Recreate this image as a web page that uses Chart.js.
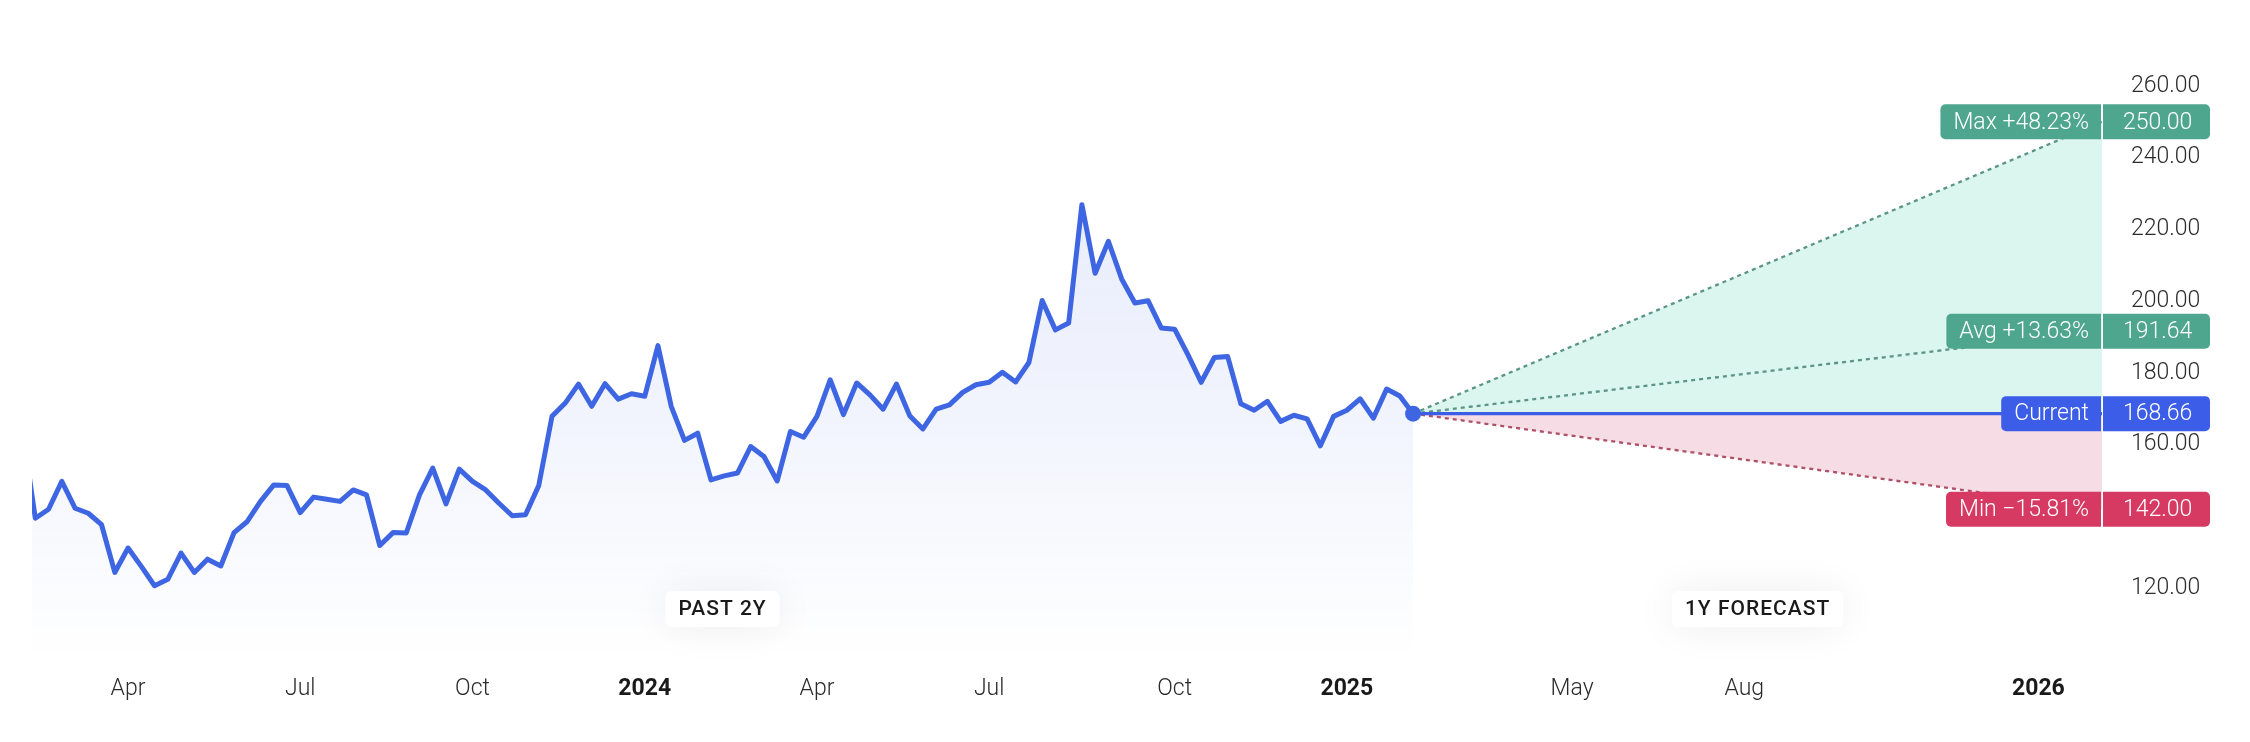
<!DOCTYPE html>
<html>
<head>
<meta charset="utf-8">
<script src="https://cdn.jsdelivr.net/npm/chart.js@4.4.1/dist/chart.umd.min.js"></script>
<style>
  html, body { margin: 0; padding: 0; background: #fff; }
  #wrap { width: 2250px; height: 742px; position: relative; }
</style>
</head>
<body>
<div id="wrap"><canvas id="priceChart"></canvas></div>
<script>
// weekly closes, past 2 years (first one is cut off by the left edge)
const priceValues = [
  165, 139.5, 142.0, 149.8, 142.3, 140.9, 137.7, 124.4, 131.2, 126.1,
  120.7, 122.5, 129.8, 124.4, 128.1, 126.2, 135.5, 138.6, 144.2, 148.8,
  148.6, 141.1, 145.4, 144.8, 144.2, 147.4, 146.0, 131.9, 135.5, 135.4,
  146.0, 153.5, 143.5, 153.2, 149.8, 147.4, 143.7, 140.2, 140.5, 148.6,
  167.9, 171.6, 176.9, 170.7, 177.0, 172.7, 174.2, 173.5, 187.6, 170.7,
  161.2, 163.2, 150.2, 151.3, 152.1, 159.5, 156.7, 149.9, 163.7, 162.1,
  167.9, 178.1, 168.4, 177.2, 173.9, 169.9, 176.9, 168.1, 164.4, 169.9,
  171.1, 174.6, 176.7, 177.4, 180.2, 177.5, 182.9, 200.2, 192.0, 193.9,
  226.9, 207.8, 216.7, 206.2, 199.5, 200.1, 192.5, 192.2, 185.1, 177.4,
  184.3, 184.6, 171.4, 169.6, 172.1, 166.5, 168.2, 167.2, 159.7, 167.9,
  169.6, 172.8, 167.4, 175.5, 173.6, 168.66
];

// forecast targets, one year out
const forecastLabels = ['Max +48.23%', 'Avg +13.63%', 'Current', 'Min \u221215.81%'];
const forecastValues = [250.00, 191.64, 168.66, 142.00];

// x axis in weeks (0 = first full week shown, 104 = today)
const xTickWeeks = [7, 20, 33, 46, 59, 72, 86, 99, 116, 129, 151.2];
const xTickLabels = ['Apr', 'Jul', 'Oct', '2024', 'Apr', 'Jul', 'Oct', '2025', 'May', 'Aug', '2026'];
const yTickValues = [120, 140, 160, 180, 200, 220, 240, 260];

const COLORS = {
  line: '#3f66e2',
  current: '#3b5de7',
  up: '#4fa68f',
  down: '#d63a63',
  upDash: '#5a9585',
  downDash: '#ad5069',
  upFill: '#dbf5ef',
  downFill: '#f6dde5',
  text: '#2b2b2b',
};

const todayWeek = priceValues.length - 2;
const endWeek = 156;
const current = forecastValues[2];

const pricePoints = priceValues.map((v, i) => ({ x: i - 1, y: v }));
const forecastLine = (target) => [{ x: todayWeek, y: current }, { x: endWeek, y: target }];
const isYear = (i) => /^\d{4}$/.test(xTickLabels[i]);

// ── Badges on the right + section tags ─────────────────────
const badgePlugin = {
  id: 'badges',
  afterDraw(chart) {
    const { ctx, chartArea, scales } = chart;
    const right = chartArea.right;
    const colors = [COLORS.up, COLORS.up, COLORS.current, COLORS.down];
    ctx.save();
    ctx.font = '300 23px Roboto';
    ctx.textBaseline = 'middle';
    forecastValues.forEach((v, i) => {
      const y = scales.y.getPixelForValue(v);
      const h = 35;
      const w = ctx.measureText(forecastLabels[i]).width + 26;
      ctx.fillStyle = colors[i];
      ctx.beginPath();
      ctx.roundRect(right - w, y - h / 2, w - 1, h, [5, 0, 0, 5]);
      ctx.fill();
      ctx.beginPath();
      ctx.roundRect(right + 1, y - h / 2, 107, h, [0, 5, 5, 0]);
      ctx.fill();
      ctx.fillStyle = '#fff';
      ctx.textAlign = 'right';
      ctx.fillText(forecastLabels[i], right - 13, y + 1);
      ctx.textAlign = 'left';
      ctx.fillText(v.toFixed(2), right + 21, y + 1);
    });

    // section tags
    const tags = [
      ['PAST 2Y', (scales.x.min + todayWeek) / 2],
      ['1Y FORECAST', (todayWeek + endWeek) / 2],
    ];
    ctx.font = '500 21px Roboto';
    ctx.letterSpacing = '1px';
    ctx.textAlign = 'center';
    tags.forEach(([txt, wk]) => {
      const cx = scales.x.getPixelForValue(wk);
      const cy = chartArea.bottom - 51;
      const w = ctx.measureText(txt).width + 26;
      ctx.save();
      ctx.shadowColor = 'rgba(0,0,0,0.07)';
      ctx.shadowBlur = 40;
      ctx.fillStyle = '#fff';
      ctx.beginPath();
      ctx.roundRect(cx - w / 2, cy - 18, w, 36, 6);
      ctx.fill();
      ctx.restore();
      ctx.fillStyle = '#1a1a1a';
      ctx.fillText(txt, cx, cy + 1);
    });
    ctx.restore();
  }
};

const ctx = document.getElementById('priceChart');

new Chart(ctx, {
  type: 'line',
  data: {
    datasets: [
      {
        label: 'Price',
        data: pricePoints,
        borderColor: COLORS.line,
        borderWidth: 5,
        borderJoinStyle: 'round',
        pointRadius: (c) => c.dataIndex === pricePoints.length - 1 ? 8 : 0,
        pointBackgroundColor: COLORS.line,
        pointBorderWidth: 0,
        tension: 0,
        fill: 'start',
        backgroundColor: (c) => {
          const { ctx, chartArea } = c.chart;
          if (!chartArea) return 'rgba(63,102,226,0.1)';
          const g = ctx.createLinearGradient(0, chartArea.top, 0, chartArea.bottom);
          g.addColorStop(0, 'rgba(63,102,226,0.15)');
          g.addColorStop(0.6, 'rgba(63,102,226,0.07)');
          g.addColorStop(1, 'rgba(63,102,226,0.0)');
          return g;
        },
      },
      {
        label: 'Current',
        data: forecastLine(current),
        borderColor: COLORS.current,
        borderWidth: 3.3,
        pointRadius: 0,
        fill: false,
      },
      {
        label: 'Avg',
        data: forecastLine(forecastValues[1]),
        borderColor: COLORS.upDash,
        borderWidth: 2.3,
        borderDash: [4, 4],
        pointRadius: 0,
        fill: false,
      },
      {
        label: 'Max',
        data: forecastLine(forecastValues[0]),
        borderColor: COLORS.upDash,
        borderWidth: 2.3,
        borderDash: [4, 4],
        pointRadius: 0,
        fill: { target: 1, above: COLORS.upFill, below: COLORS.upFill },
      },
      {
        label: 'Min',
        data: forecastLine(forecastValues[3]),
        borderColor: COLORS.downDash,
        borderWidth: 2.3,
        borderDash: [4, 4],
        pointRadius: 0,
        fill: { target: 1, above: COLORS.downFill, below: COLORS.downFill },
      },
    ]
  },
  options: {
    responsive: true,
    maintainAspectRatio: false,
    animation: false,
    devicePixelRatio: 1,
    layout: { padding: { left: 32, top: 50, right: 0, bottom: 0 } },
    plugins: {
      legend: { display: false },
      tooltip: { enabled: false },
    },
    scales: {
      x: {
        type: 'linear',
        min: -0.25,
        max: endWeek,
        grid: { display: false },
        border: { display: false },
        afterBuildTicks: (s) => { s.ticks = xTickWeeks.map(v => ({ value: v })); },
        afterFit: (s) => { s.height = 82; },
        ticks: {
          autoSkip: false,
          maxRotation: 0,
          padding: 7,
          color: (c) => isYear(c.index) ? '#1a1a1a' : COLORS.text,
          font: (c) => ({
            family: 'Roboto',
            size: 23,
            weight: isYear(c.index) ? 'bold' : '300',
          }),
          callback: (v, i) => xTickLabels[i],
        }
      },
      y: {
        position: 'right',
        min: 100,
        max: 270,
        grid: { display: false },
        border: { display: false },
        afterBuildTicks: (s) => { s.ticks = yTickValues.map(v => ({ value: v })); },
        afterFit: (s) => { s.width = 148; },
        ticks: {
          padding: 21,
          color: COLORS.text,
          font: { family: 'Roboto', size: 23, weight: '300' },
          callback: (v) => Number(v).toFixed(2),
        }
      }
    }
  },
  plugins: [badgePlugin]
});
</script>
</body>
</html>
